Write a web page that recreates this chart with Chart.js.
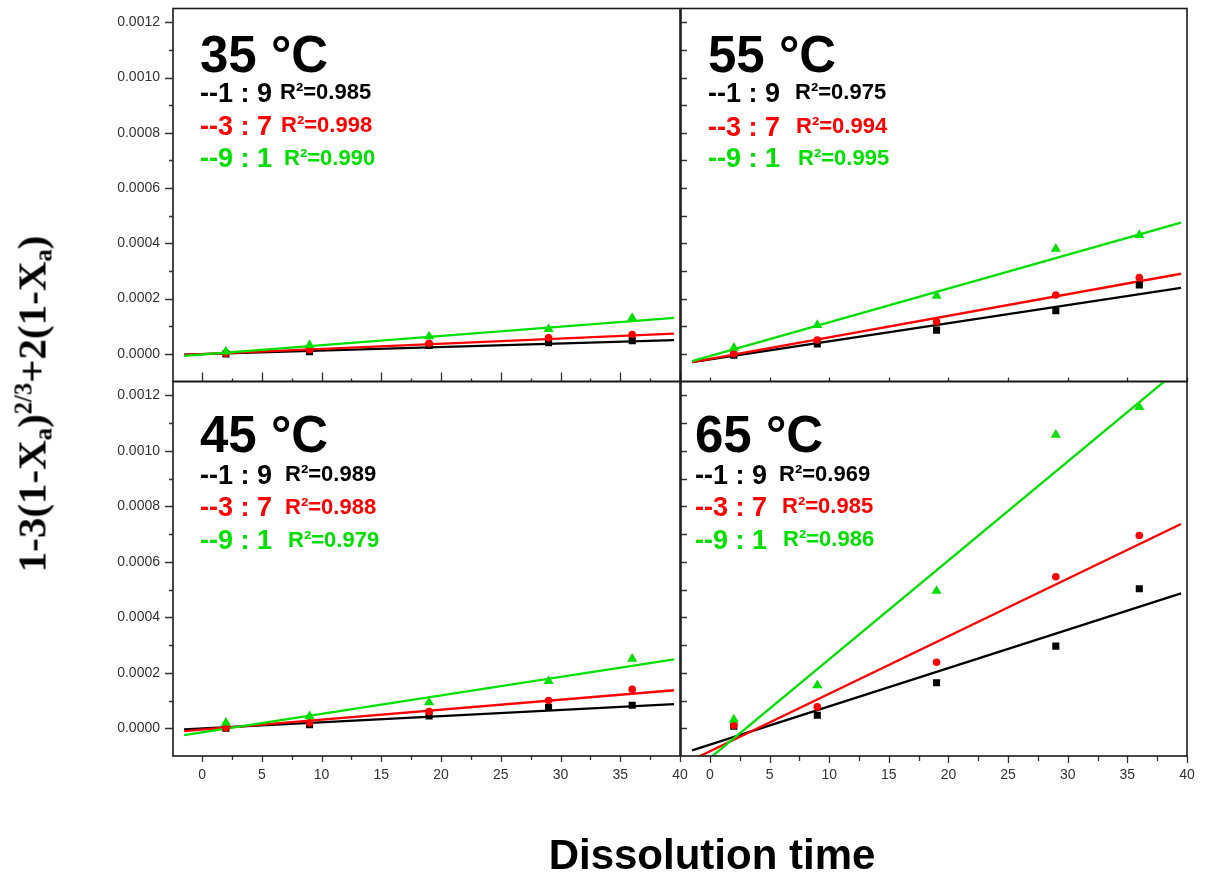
<!DOCTYPE html>
<html>
<head>
<meta charset="utf-8">
<script src="https://cdn.jsdelivr.net/npm/chart.js@4.4.0/dist/chart.umd.min.js"></script>
<style>
  html, body { margin: 0; padding: 0; background: #fff; }
  #wrap { position: relative; width: 1206px; height: 878px; overflow: hidden; background: #fff; }
  #wrap canvas { position: absolute; left: 0; top: 0; }
  .lbl { position: absolute; white-space: pre; line-height: 1; font-family: 'Liberation Sans', Arial, sans-serif; font-weight: bold; }
  #ytitle {
    position: absolute; left: 32px; top: 404px; white-space: nowrap; line-height: 1;
    transform: translate(-50%, -50%) rotate(-90deg);
    font-family: 'Liberation Serif', 'Times New Roman', serif; font-weight: bold; font-size: 41px; color: #000;
  }
  #ytitle sub, #ytitle sup { font-size: 0.6em; line-height: 0; }
  #ytitle sub { vertical-align: -0.25em; }
  #ytitle sup { vertical-align: 0.55em; }
  #xtitle {
    position: absolute; left: 712px; top: 834px; transform: translateX(-50%); white-space: nowrap; line-height: 1;
    font-family: 'Liberation Sans', Arial, sans-serif; font-weight: bold; font-size: 42px; color: #000;
  }
</style>
</head>
<body>
<div id="wrap">
  <canvas id="p35" width="1206" height="878"></canvas>
  <canvas id="p55" width="1206" height="878"></canvas>
  <canvas id="p45" width="1206" height="878"></canvas>
  <canvas id="p65" width="1206" height="878"></canvas>
  <div id="ytitle">1-3(1-X<sub>a</sub>)<sup>2/3</sup>+2(1-X<sub>a</sub>)</div>
  <div id="xtitle">Dissolution time</div>
</div>
<script>
// sampling times and the span of the fitted lines
const time = [2, 9, 19, 29, 36];
const fitX = [-1.5, 39.5];
const ratios = ['1 : 9', '3 : 7', '9 : 1'];
const temps = ['35', '55', '45', '65'];

// 35 °C
const d35_19 = [0.0, 0.000008, 0.00003, 0.00004, 0.000048];
const d35_37 = [0.000002, 0.000015, 0.000038, 0.000058, 0.00007];
const d35_91 = [0.000008, 0.000032, 0.000063, 0.00009, 0.00013];
const f35_19 = [-0.000003, 0.00005];
const f35_37 = [-0.000004, 0.000073];
const f35_91 = [-0.000007, 0.00013];
const r2_35 = ['0.985', '0.998', '0.990'];

// 55 °C
const d55_19 = [-0.000005, 0.000036, 0.000086, 0.000156, 0.000249];
const d55_37 = [0.0, 0.00005, 0.000116, 0.000213, 0.000276];
const d55_91 = [0.000022, 0.000104, 0.00021, 0.00038, 0.00043];
const f55_19 = [-0.00003, 0.000239];
const f55_37 = [-0.00003, 0.00029];
const f55_91 = [-0.000026, 0.000475];
const r2_55 = ['0.975', '0.994', '0.995'];

// 45 °C
const d45_19 = [0.0, 0.000013, 0.000044, 0.000075, 0.000083];
const d45_37 = [0.000002, 0.00002, 0.00006, 0.0001, 0.00014];
const d45_91 = [0.00002, 0.000043, 0.000093, 0.00017, 0.00025];
const f45_19 = [-0.000004, 0.000087];
const f45_37 = [-0.00001, 0.000137];
const f45_91 = [-0.000025, 0.000248];
const r2_45 = ['0.989', '0.988', '0.979'];

// 65 °C
const d65_19 = [0.000007, 0.000047, 0.000164, 0.000296, 0.000503];
const d65_37 = [0.000011, 0.000077, 0.000238, 0.000546, 0.000695];
const d65_91 = [0.000031, 0.000155, 0.000495, 0.001058, 0.001158];
const f65_19 = [-0.00008, 0.000486];
const f65_37 = [-0.000114, 0.000736];
const f65_91 = [-0.000161, 0.0013];
const r2_65 = ['0.969', '0.985', '0.986'];

const colors = ['#000000', '#ff0000', '#00e000'];
const styles = ['rect', 'circle', 'triangle'];
const radii = [5, 3.8, 5.8];

const W = 1206, H = 878;
const FONT = "'Liberation Sans', Arial, sans-serif";
const YAXIS_W = 70;   // room for the y tick labels
const XAXIS_H = 40;   // room for the x tick labels

// frame around each plot box plus major/minor tick marks
const framePlugin = {
  id: 'frame',
  afterDatasetsDraw(chart, args, o) {
    const { ctx, chartArea: a, scales: { x, y } } = chart;
    ctx.save();
    ctx.strokeStyle = '#333';
    ctx.lineWidth = 1.3;
    ctx.beginPath();
    for (let k = 0; k <= 12; k++) {
      const v = k * 0.0001;
      const py = Math.round(y.getPixelForValue(v)) + 0.5;
      const len = k % 2 === 0 ? o.yMajor : o.yMinor;
      if (!len) continue;
      ctx.moveTo(a.left, py);
      ctx.lineTo(a.left + o.yDir * len, py);
    }
    for (let k = 0; k <= 16; k++) {
      const v = k * 2.5;
      const px = Math.round(x.getPixelForValue(v)) + 0.5;
      const len = k % 2 === 0 ? o.xMajor : o.xMinor;
      if (!len) continue;
      ctx.moveTo(px, a.bottom);
      ctx.lineTo(px, a.bottom + o.xDir * len);
    }
    ctx.stroke();
    ctx.strokeStyle = '#1a1a1a';
    ctx.lineWidth = 1.6;
    ctx.strokeRect(a.left, a.top, a.right - a.left, a.bottom - a.top);
    ctx.restore();
  }
};

function pts(ys) { return ys.map((v, i) => ({ x: time[i], y: v })); }
function fit(ys) { return ys.map((v, i) => ({ x: fitX[i], y: v })); }

function fixX(s) { s.height = XAXIS_H; s.paddingLeft = 0; s.paddingRight = 0; s.paddingTop = 0; s.paddingBottom = 0; }
function fixY(s) { s.width = YAXIS_W; s.paddingLeft = 0; s.paddingRight = 0; s.paddingTop = 0; s.paddingBottom = 0; }

function makePanel(id, area, values, fits, showX, showY, ticks) {
  const datasets = [];
  [2, 1, 0].forEach((s, n) => {
    datasets.push({
      data: pts(values[s]), showLine: false, order: n,
      pointStyle: styles[s], pointRadius: radii[s], pointBackgroundColor: colors[s],
      pointBorderColor: colors[s], pointBorderWidth: 0
    });
  });
  [2, 1, 0].forEach((s, n) => {
    datasets.push({
      data: fit(fits[s]), showLine: true, order: 3 + n, pointRadius: 0,
      borderColor: colors[s], borderWidth: 2.3
    });
  });
  return new Chart(document.getElementById(id), {
    type: 'scatter',
    data: { datasets },
    options: {
      responsive: false, animation: false, events: [],
      layout: { padding: { left: area[0] - YAXIS_W, top: area[1], right: W - area[2], bottom: H - area[3] - XAXIS_H } },
      plugins: { legend: { display: false }, tooltip: { enabled: false }, frame: ticks },
      scales: {
        x: {
          type: 'linear', min: -2.43, max: 40,
          afterFit: fixX,
          grid: { display: false, drawTicks: false, tickLength: 0 },
          border: { display: false },
          ticks: { display: showX, stepSize: 5, includeBounds: false, padding: 11, color: '#333',
                   maxRotation: 0, autoSkip: false, font: { family: FONT, size: 14 } }
        },
        y: {
          type: 'linear', min: -0.0001, max: 0.00125,
          afterFit: fixY,
          grid: { display: false, drawTicks: false, tickLength: 0 },
          border: { display: false },
          ticks: { display: showY, stepSize: 0.0002, includeBounds: false, padding: 13, color: '#333',
                   autoSkip: false, font: { family: FONT, size: 14 }, callback: v => v.toFixed(4) }
        }
      }
    },
    plugins: [framePlugin]
  });
}

makePanel('p35', [173, 8.5, 680, 381.5], [d35_19, d35_37, d35_91], [f35_19, f35_37, f35_91], false, true,
  { yDir: -1, yMajor: 8, yMinor: 4, xDir: -1, xMajor: 9, xMinor: 3 });
makePanel('p55', [681, 8.5, 1187, 381.5], [d55_19, d55_37, d55_91], [f55_19, f55_37, f55_91], false, false,
  { yDir: 1, yMajor: 6, yMinor: 6, xDir: -1, xMajor: 4, xMinor: 0 });
makePanel('p45', [173, 381.5, 680, 756], [d45_19, d45_37, d45_91], [f45_19, f45_37, f45_91], true, true,
  { yDir: -1, yMajor: 8, yMinor: 4, xDir: 1, xMajor: 6, xMinor: 4 });
makePanel('p65', [681, 381.5, 1187, 756], [d65_19, d65_37, d65_91], [f65_19, f65_37, f65_91], true, false,
  { yDir: 1, yMajor: 6, yMinor: 6, xDir: 1, xMajor: 7, xMinor: 5 });

// in-plot annotations: temperature heading, ratio rows and R² values
const wrap = document.getElementById('wrap');
function text(str, x, base, size, color) {
  const d = document.createElement('div');
  d.className = 'lbl';
  d.textContent = str;
  d.style.left = x + 'px';
  d.style.top = (base - 0.8465 * size) + 'px';
  d.style.fontSize = size + 'px';
  d.style.color = color;
  wrap.appendChild(d);
}
const notes = [
  { t: temps[0], r2: r2_35, x: 200, tb: 72,  rb: [103, 136, 168], r2x: [280, 281, 284], r2b: [100, 133, 166] },
  { t: temps[1], r2: r2_55, x: 708, tb: 72,  rb: [103, 137, 168], r2x: [795, 796, 798], r2b: [100, 134, 166] },
  { t: temps[2], r2: r2_45, x: 200, tb: 452, rb: [485, 517, 550], r2x: [285, 285, 288], r2b: [482, 515, 548] },
  { t: temps[3], r2: r2_65, x: 695, tb: 452, rb: [485, 517, 550], r2x: [779, 782, 783], r2b: [482, 514, 547] }
];
notes.forEach(n => {
  text(n.t + ' °C', n.x, n.tb, 51, '#000');
  for (let s = 0; s < 3; s++) {
    text('--' + ratios[s], n.x, n.rb[s], 27, colors[s]);
    text('R²=' + n.r2[s], n.r2x[s], n.r2b[s], 22, colors[s]);
  }
});
</script>
</body>
</html>
